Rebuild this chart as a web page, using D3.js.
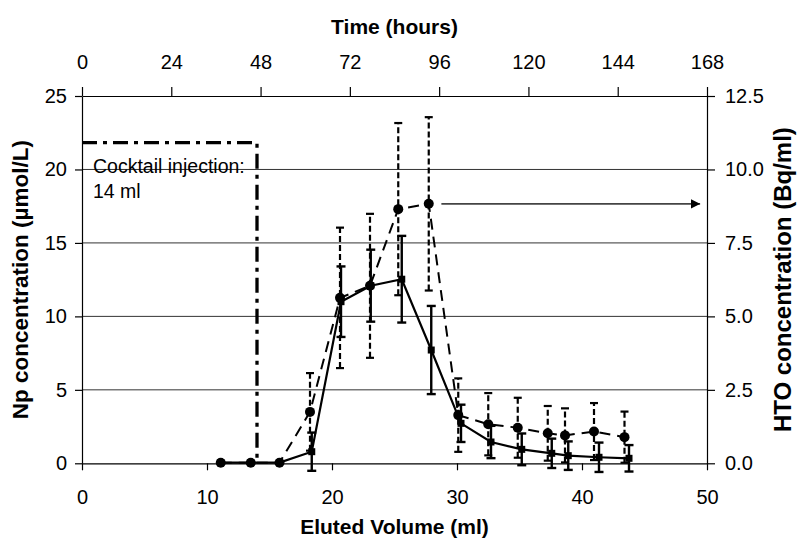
<!DOCTYPE html>
<meta charset="utf-8">
<style>
body { margin: 0; background: #fff; }
text { font-family: "Liberation Sans", Arial, sans-serif; fill: #000; }
.axis text { font-size: 20px; }
.axis path, .axis line { stroke: #000; stroke-width: 1.2px; }
.title { font-size: 21px; font-weight: bold; }
.grid line { stroke: #333; stroke-width: 1px; }
</style>
<svg width="803" height="538"></svg>
<script src="https://cdn.jsdelivr.net/npm/d3@7"></script>
<script>

// eluted volume (ml) and Np concentration (umol/L), with error
var npVol = [11.1, 13.5, 15.8, 18.38, 20.72, 23.1, 25.58, 27.94, 30.32, 32.72, 35.18, 37.58, 38.9, 41.36, 43.76]
var npConc = [0.05, 0.05, 0.05, 0.79, 11.0, 12.09, 12.53, 7.71, 2.72, 1.45, 0.95, 0.68, 0.52, 0.41, 0.34]
var npErr = [0, 0, 0, 1.3, 2.4, 2.45, 2.95, 3.0, 1.27, 1.1, 1.08, 1.0, 0.97, 1.0, 0.9]

// eluted volume (ml) and HTO concentration (Bq/ml), with error
var htoVol = [11.1, 13.5, 15.8, 18.24, 20.64, 23.04, 25.3, 27.74, 30.1, 32.5, 34.86, 37.26, 38.64, 40.96, 43.4]
var htoConc = [0.02, 0.02, 0.02, 1.75, 5.63, 6.04, 8.65, 8.83, 1.64, 1.33, 1.21, 1.02, 0.95, 1.08, 0.89]
var htoErr = [0, 0, 0, 1.32, 2.39, 2.45, 2.93, 2.95, 1.25, 1.06, 1.02, 0.93, 0.92, 0.97, 0.87]

var volTicks = [0, 10, 20, 30, 40, 50]
var timeTicks = [0, 24, 48, 72, 96, 120, 144, 168]
var npTicks = [0, 5, 10, 15, 20, 25]
var htoTicks = [0, 2.5, 5, 7.5, 10, 12.5]

var injection = {vol: 14, level: 21.82, label: ["Cocktail injection:", "14 ml"]}

var svg = d3.select("svg"),
    plotL = 82, plotR = 707, plotT = 96, plotB = 463.3;

var x = d3.scaleLinear().domain([0, 50]).range([plotL, plotR]);
var xt = d3.scaleLinear().domain([0, 168]).range([plotL, plotR]);
var y = d3.scaleLinear().domain([0, 25]).range([plotB, plotT]);
var y2 = d3.scaleLinear().domain([0, 12.5]).range([plotB, plotT]);

// gridlines
svg.append("g").attr("class", "grid")
  .selectAll("line").data(npTicks.slice(1, -1))
  .enter().append("line")
    .attr("x1", plotL).attr("x2", plotR)
    .attr("y1", function(d) { return y(d); })
    .attr("y2", function(d) { return y(d); });

// axes
svg.append("g").attr("class", "axis")
    .attr("transform", "translate(0," + plotB + ")")
    .call(d3.axisBottom(x).tickValues(volTicks).tickSize(7).tickPadding(20).tickSizeOuter(0));

svg.append("g").attr("class", "axis")
    .attr("transform", "translate(0," + plotT + ")")
    .call(d3.axisTop(xt).tickValues(timeTicks).tickSize(9).tickPadding(18).tickSizeOuter(0));

svg.append("g").attr("class", "axis")
    .attr("transform", "translate(" + plotL + ",0)")
    .call(d3.axisLeft(y).tickValues(npTicks).tickSize(7).tickPadding(8).tickSizeOuter(0));

svg.append("g").attr("class", "axis")
    .attr("transform", "translate(" + plotR + ",0)")
    .call(d3.axisRight(y2).tickValues(htoTicks).tickFormat(d3.format(".1f"))
      .tickSize(8).tickPadding(10).tickSizeOuter(0));

// axis titles
svg.append("text").attr("class", "title")
    .attr("x", (plotL + plotR) / 2).attr("y", 534)
    .attr("text-anchor", "middle").text("Eluted Volume (ml)");

svg.append("text").attr("class", "title")
    .attr("x", (plotL + plotR) / 2).attr("y", 34)
    .attr("text-anchor", "middle").text("Time (hours)");

svg.append("text").attr("class", "title")
    .attr("transform", "translate(28," + (plotT + plotB) / 2 + ") rotate(-90)")
    .attr("text-anchor", "middle").style("font-size", "22.5px")
    .text("Np concentration (µmol/L)");

svg.append("text").attr("class", "title")
    .attr("transform", "translate(791," + (plotT + plotB) / 2 + ") rotate(-90)")
    .attr("text-anchor", "middle").style("font-size", "24px")
    .text("HTO concentration (Bq/ml)");

// injection box
svg.append("path")
    .attr("d", d3.line()([[x(0), y(injection.level)], [x(injection.vol), y(injection.level)], [x(injection.vol), y(0)]]))
    .attr("fill", "none").attr("stroke", "#000").attr("stroke-width", 3.3)
    .attr("stroke-dasharray", "15,6,4,6");

svg.append("text")
    .attr("x", 93).attr("y", 173)
    .style("font-size", "19.5px")
    .selectAll("tspan").data(injection.label)
    .enter().append("tspan")
      .attr("x", 93).attr("dy", function(d, i) { return i ? 25 : 0; })
      .text(function(d) { return d; });

// arrow to right axis
svg.append("defs").append("marker")
    .attr("id", "arrow").attr("viewBox", "0 0 10 10")
    .attr("refX", 10).attr("refY", 5)
    .attr("markerWidth", 6).attr("markerHeight", 6)
    .attr("orient", "auto")
  .append("path").attr("d", "M0,0L10,5L0,10z").attr("fill", "#000");

svg.append("line")
    .attr("x1", x(28.75)).attr("x2", x(49.45))
    .attr("y1", y2(8.83)).attr("y2", y2(8.83))
    .attr("stroke", "#444").attr("stroke-width", 1.6)
    .attr("marker-end", "url(#arrow)");

// HTO series (dashed, circles)
var hto = htoVol.map(function(v, i) { return {x: v, y: htoConc[i], e: htoErr[i]}; });
var np = npVol.map(function(v, i) { return {x: v, y: npConc[i], e: npErr[i]}; });

var gh = svg.append("g");
gh.append("path")
    .attr("d", d3.line().x(function(d) { return x(d.x); }).y(function(d) { return y2(d.y); })(hto))
    .attr("fill", "none").attr("stroke", "#000").attr("stroke-width", 2)
    .attr("stroke-dasharray", "11,7");

var eh = gh.selectAll(".eb").data(hto.filter(function(d) { return d.e > 0; }))
  .enter().append("g");
eh.append("line")
    .attr("x1", function(d) { return x(d.x); }).attr("x2", function(d) { return x(d.x); })
    .attr("y1", function(d) { return y2(d.y - d.e); }).attr("y2", function(d) { return y2(d.y + d.e); })
    .attr("stroke", "#000").attr("stroke-width", 2.2).attr("stroke-dasharray", "6,3");
[-1, 1].forEach(function(s) {
  eh.append("line")
      .attr("x1", function(d) { return x(d.x) - 4; }).attr("x2", function(d) { return x(d.x) + 4; })
      .attr("y1", function(d) { return y2(d.y + s * d.e); }).attr("y2", function(d) { return y2(d.y + s * d.e); })
      .attr("stroke", "#000").attr("stroke-width", 2.2);
});

gh.selectAll("circle").data(hto)
  .enter().append("circle")
    .attr("cx", function(d) { return x(d.x); })
    .attr("cy", function(d) { return y2(d.y); })
    .attr("r", 5).attr("fill", "#000");

// Np series (solid, squares)
var gn = svg.append("g");
gn.append("path")
    .attr("d", d3.line().x(function(d) { return x(d.x); }).y(function(d) { return y(d.y); })(np))
    .attr("fill", "none").attr("stroke", "#000").attr("stroke-width", 2.2);

var en = gn.selectAll(".eb").data(np.filter(function(d) { return d.e > 0; }))
  .enter().append("g");
en.append("line")
    .attr("x1", function(d) { return x(d.x); }).attr("x2", function(d) { return x(d.x); })
    .attr("y1", function(d) { return y(d.y - d.e); }).attr("y2", function(d) { return y(d.y + d.e); })
    .attr("stroke", "#000").attr("stroke-width", 2.4);
[-1, 1].forEach(function(s) {
  en.append("line")
      .attr("x1", function(d) { return x(d.x) - 4.5; }).attr("x2", function(d) { return x(d.x) + 4.5; })
      .attr("y1", function(d) { return y(d.y + s * d.e); }).attr("y2", function(d) { return y(d.y + s * d.e); })
      .attr("stroke", "#000").attr("stroke-width", 2.4);
});

gn.selectAll("rect").data(np)
  .enter().append("rect")
    .attr("x", function(d) { return x(d.x) - 3.5; })
    .attr("y", function(d) { return y(d.y) - 3.5; })
    .attr("width", 7).attr("height", 7).attr("fill", "#000");

</script>
